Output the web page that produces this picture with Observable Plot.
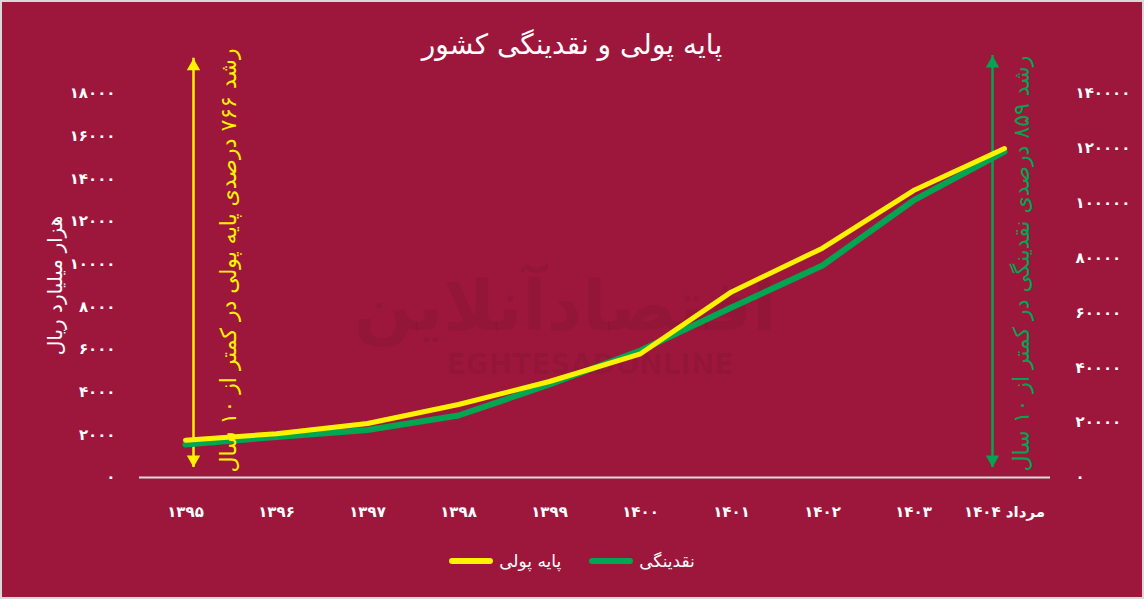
<!DOCTYPE html>
<html>
<head>
<meta charset="utf-8">
<script src="https://cdn.jsdelivr.net/npm/d3@7"></script>
<script src="https://cdn.jsdelivr.net/npm/@observablehq/plot@0.6"></script>
<style>
  html, body { margin: 0; padding: 0; background: #d9d9d9; }
  #frame { position: absolute; left: 2px; top: 2px; width: 1140px; height: 595px; background: #9d173c; overflow: hidden;
           font-family: "DejaVu Sans", "Noto Sans", sans-serif; }
  #title { position: absolute; left: 0; top: 26px; width: 100%; text-align: center; color: #fff; font-size: 28px; }
  #chart { position: absolute; left: 0; top: 0; }
  #legend { position: absolute; left: 0; top: 549px; width: 100%; display: flex; justify-content: center; align-items: center;
            color: #fff; font-size: 17px; direction: ltr; }
  .item { display: flex; align-items: center; margin: 0 14px; }
  .sw { width: 44px; height: 6px; border-radius: 3px; margin-right: 6px; }
</style>
</head>
<body>
<div id="frame">
  <div id="chart"></div>
  <div id="title">پایه پولی و نقدینگی کشور</div>
  <div id="legend"></div>
</div>
<script>
// ---- data ----
const years = ["۱۳۹۵", "۱۳۹۶", "۱۳۹۷", "۱۳۹۸", "۱۳۹۹", "۱۴۰۰", "۱۴۰۱", "۱۴۰۲", "۱۴۰۳", "مرداد ۱۴۰۴"];
const baseMoney = [1750, 2050, 2530, 3420, 4500, 5800, 8700, 10750, 13450, 15420];   // هزار میلیارد ریال (left axis)
const liquidity = [12000, 14800, 17300, 22600, 33900, 46300, 62000, 77300, 101000, 118800]; // right axis
const leftTicks = [0, 2000, 4000, 6000, 8000, 10000, 12000, 14000, 16000, 18000];
const rightTicks = [0, 20000, 40000, 60000, 80000, 100000, 120000, 140000];
const seriesNames = ["پایه پولی", "نقدینگی"];
const seriesColors = ["#fff200", "#00a651"];
const yLabel = "هزار میلیارد ریال";
const noteBase = "رشد ۷۶۶ درصدی پایه پولی در کمتر از ۱۰ سال";
const noteLiq = "رشد ۸۵۹ درصدی نقدینگی در کمتر از ۱۰ سال";
const watermark = ["اقتصادآنلاین", "EGHTESADONLINE"];

// ---- helpers ----
const leftMax = 18000, rightMax = 140000;
const toLeft = v => v * leftMax / rightMax;
const fa = v => String(v).replace(/\d/g, c => "۰۱۲۳۴۵۶۷۸۹"[c]);

const baseRows = years.map((y, i) => ({year: y, v: baseMoney[i]}));
const liqRows = years.map((y, i) => ({year: y, v: toLeft(liquidity[i])}));

// annotation arrows (ends in left-axis units)
const arrows = [
  {year: years[0], top: 19650, bottom: 470, dx: 8, color: seriesColors[0], text: noteBase, tdx: 43, tdy: -25},
  {year: years[years.length - 1], top: 19780, bottom: 470, dx: -12, color: seriesColors[1], text: noteLiq, tdx: 17, tdy: -22}
];

const white = "#ffffff";
const p = Plot.plot({
  width: 1140, height: 540, marginLeft: 137, marginRight: 92, marginTop: 91, marginBottom: 65,
  style: {background: "transparent", color: white, fontFamily: "DejaVu Sans, sans-serif", overflow: "visible"},
  x: {type: "point", domain: years, padding: 0.5, axis: null},
  y: {domain: [0, leftMax], axis: null},
  marks: [
    Plot.text([watermark[0]], {frameAnchor: "middle", dx: -30, dy: 22, fontSize: 70, fontWeight: "bold", fill: "#000", fillOpacity: 0.06}),
    Plot.text([watermark[1]], {frameAnchor: "middle", dx: -5, dy: 80, fontSize: 28, fontWeight: "bold", fill: "#000", fillOpacity: 0.06}),
    Plot.axisX({tickSize: 0, tickPadding: 29, fontSize: 15, fontWeight: "bold", fill: white, label: null}),
    Plot.axisY(leftTicks, {tickSize: 0, tickPadding: 24, fontSize: 15, fontWeight: "bold", tickFormat: fa, fill: white, label: null}),
    Plot.text(rightTicks, {y: d => toLeft(d), text: d => fa(d), frameAnchor: "right", dx: 25, textAnchor: "start", fontSize: 15, fontWeight: "bold", fill: white}),
    Plot.text([yLabel], {frameAnchor: "left", dx: -84, textAnchor: "middle", rotate: -90, fontSize: 20, fill: white}),
    Plot.ruleY([0], {stroke: "#dddddd", strokeWidth: 2}),
    ...arrows.flatMap(a => [
      Plot.ruleX([a], {x: "year", y1: "top", y2: "bottom", dx: a.dx, stroke: a.color, strokeWidth: 2.5}),
      Plot.dot([a], {x: "year", y: "top", dx: a.dx, dy: 8, symbol: "triangle", r: 5, fill: a.color, stroke: "none"}),
      Plot.dot([a], {x: "year", y: "bottom", dx: a.dx, dy: -8, symbol: "triangle", rotate: 180, r: 5, fill: a.color, stroke: "none"})
    ]),
    Plot.line(liqRows, {x: "year", y: "v", stroke: seriesColors[1], strokeWidth: 6, strokeLinecap: "round", strokeLinejoin: "round"}),
    Plot.line(baseRows, {x: "year", y: "v", stroke: seriesColors[0], strokeWidth: 5, strokeLinecap: "round", strokeLinejoin: "round"}),
    ...arrows.map(a => Plot.text([a], {x: "year", text: "text", frameAnchor: "middle", dx: a.tdx, dy: a.tdy, rotate: -90, fill: a.color, fontSize: 22}))
  ]
});
document.getElementById("chart").appendChild(p);

const legend = document.getElementById("legend");
seriesNames.forEach((n, i) => {
  const it = document.createElement("div");
  it.className = "item";
  const sw = document.createElement("div");
  sw.className = "sw";
  sw.style.background = seriesColors[i];
  const lb = document.createElement("span");
  lb.textContent = n;
  it.appendChild(sw); it.appendChild(lb);
  legend.appendChild(it);
});
</script>
</body>
</html>
